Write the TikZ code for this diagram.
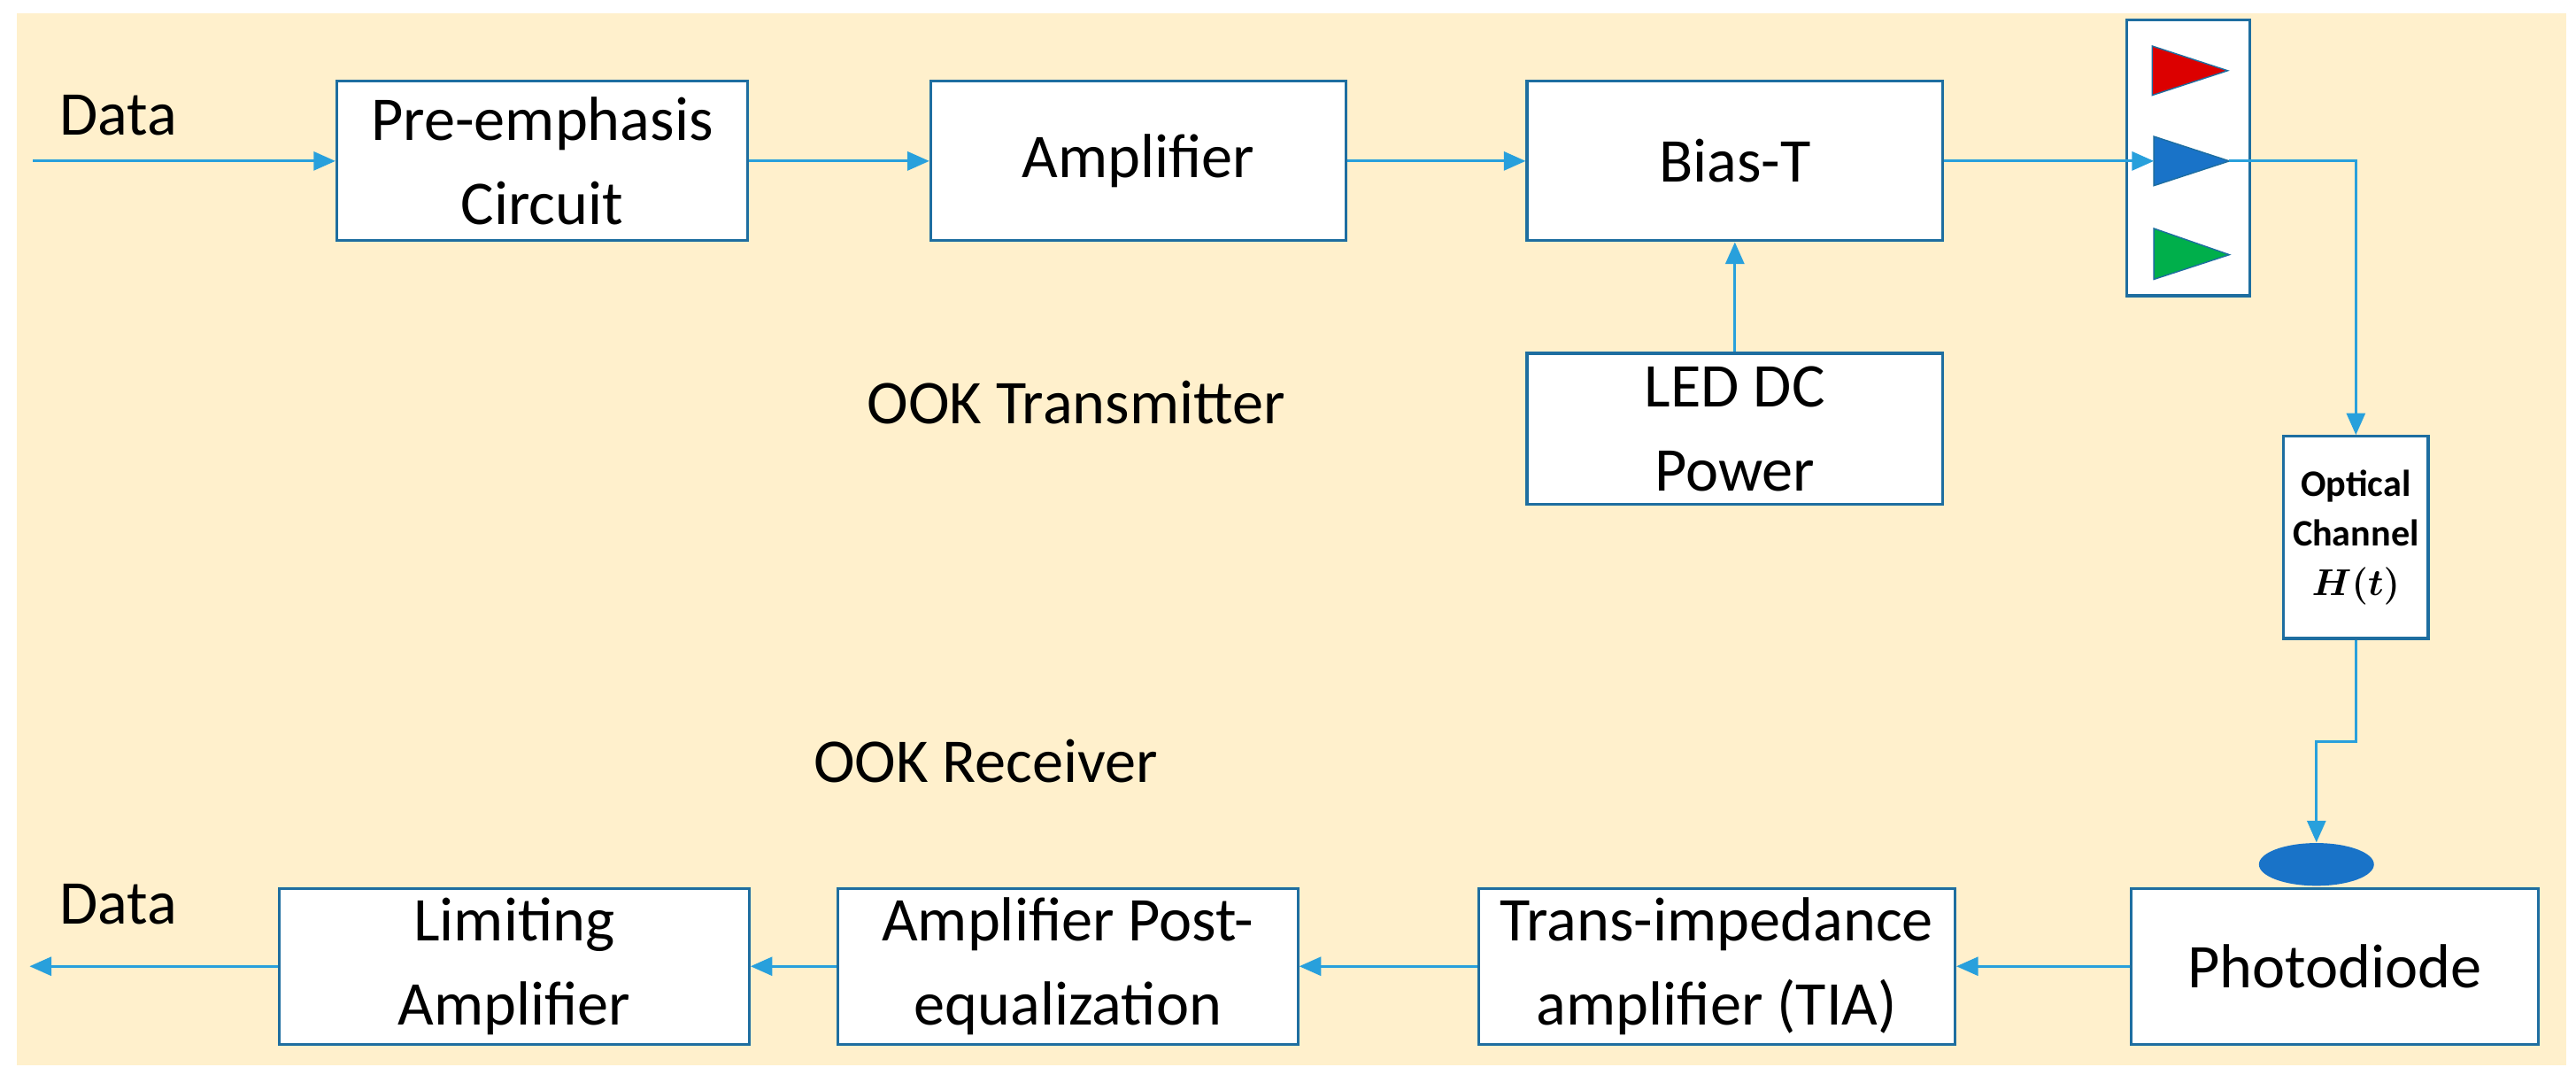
\documentclass[tikz,border=0pt]{standalone}
\usepackage{bm}
\usepackage{fontspec}
\setmainfont{Carlito}
\usetikzlibrary{positioning,calc,arrows.meta,shapes.geometric}
\definecolor{bgbeige}{RGB}{255,240,204}
\definecolor{boxblue}{RGB}{30,110,160}
\definecolor{linkblue}{RGB}{40,160,220}
\definecolor{ledred}{RGB}{220,0,0}
\definecolor{ledblue}{RGB}{25,115,200}
\definecolor{ledgreen}{RGB}{0,175,75}
\begin{document}
\begin{tikzpicture}[
    x=0.01856cm, y=-0.01856cm,
    box/.style={rectangle, draw=boxblue, line width=0.9pt, fill=white, align=center, inner sep=0pt},
    link/.style={-{Triangle[length=7pt,width=6pt]}, draw=linkblue, line width=0.8pt},
    led/.style={draw=boxblue, line width=0.4pt},
    every node/.style={font=\fontsize{20}{27}\selectfont}
]
\useasboundingbox (0,0) rectangle (1568,654);
\fill[bgbeige] (10,8) rectangle (1562,648);

% Transmitter row
\node[box, minimum width=250*0.01856cm, minimum height=97*0.01856cm] (preemph) at (330,98) {Pre-emphasis\\Circuit};
\node[box, minimum width=253*0.01856cm, minimum height=97*0.01856cm] (amp) at (693,98) {Amplifier};
\node[box, minimum width=253*0.01856cm, minimum height=97*0.01856cm] (biast) at (1056,98) {Bias-T};
\node[box, minimum width=253*0.01856cm, minimum height=92*0.01856cm] (ledpower) at (1056,261) {LED DC\\Power};
\node (datain) at (72,70) {Data};
\node (txlabel) at (655,245) {OOK Transmitter};
\coordinate (srcin) at (20,98);

% LED array
\node[box, minimum width=75*0.01856cm, minimum height=168*0.01856cm] (ledbox) at (1332,96) {};
\filldraw[led, fill=ledred] (1310,28) -- (1356,43) -- (1310,58) -- cycle;
\filldraw[led, fill=ledblue] (1311,83) -- (1357,98) -- (1311,113) -- cycle;
\filldraw[led, fill=ledgreen] (1311,139) -- (1357,155) -- (1311,170) -- cycle;
\coordinate (ledin) at (1311,98);
\coordinate (ledout) at (1357,98);

% Channel
\node[box, minimum width=88*0.01856cm, minimum height=123*0.01856cm, font=\bfseries\fontsize{12}{16}\selectfont] (channel) at (1434,327) {Optical\\Channel\\$\bm{H(t)}$};

% Receiver row
\node[box, minimum width=248*0.01856cm, minimum height=95*0.01856cm] (photo) at (1421,588) {Photodiode};
\node[box, minimum width=290*0.01856cm, minimum height=95*0.01856cm] (tia) at (1045,588) {Trans-impedance\\amplifier (TIA)};
\node[box, minimum width=280*0.01856cm, minimum height=95*0.01856cm] (posteq) at (650,588) {Amplifier Post-\\equalization};
\node[box, minimum width=286*0.01856cm, minimum height=95*0.01856cm] (limamp) at (313,588) {Limiting\\Amplifier};
\node[ellipse, fill=ledblue, minimum width=70*0.01856cm, minimum height=26*0.01856cm, inner sep=0pt] (diode) at (1410,526) {};
\node (dataout) at (72,550) {Data};
\node (rxlabel) at (600,463) {OOK Receiver};
\coordinate (sinkout) at (18,588);

% Links
\draw[link] (srcin) -- (preemph);
\draw[link] (preemph) -- (amp);
\draw[link] (amp) -- (biast);
\draw[link] (ledpower) -- (biast);
\draw[link] (biast.east) -- (ledin);
\draw[link] (ledout) -| (channel.north);
\draw[link] (channel.south) -- ++(0,62) -| (diode.north);
\draw[link] (photo) -- (tia);
\draw[link] (tia) -- (posteq);
\draw[link] (posteq) -- (limamp);
\draw[link] (limamp) -- (sinkout);

\end{tikzpicture}
\end{document}
